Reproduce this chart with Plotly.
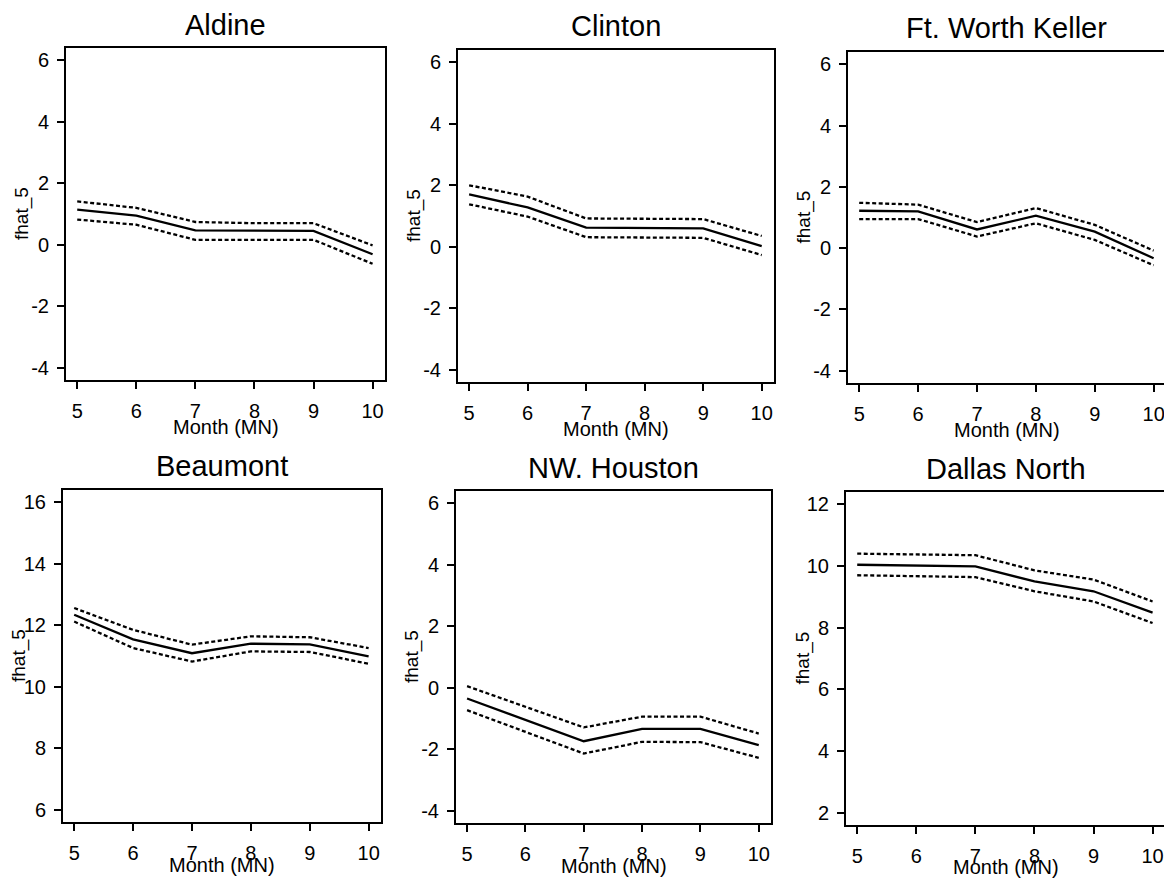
import plotly.graph_objects as go

# page body has an 8px margin, so all reference pixel positions are shifted by OFF
OFF = 8
W, H = 1164, 871

months = [5, 6, 7, 8, 9, 10]

stations = ["Aldine", "Clinton", "Ft. Worth Keller", "Beaumont", "NW. Houston", "Dallas North"]

aldine_fit = [1.14, 0.95, 0.47, 0.47, 0.45, -0.31]
aldine_upper = [1.41, 1.20, 0.74, 0.70, 0.70, -0.02]
aldine_lower = [0.82, 0.65, 0.16, 0.16, 0.16, -0.62]

clinton_fit = [1.70, 1.28, 0.62, 0.62, 0.60, 0.02]
clinton_upper = [2.00, 1.63, 0.92, 0.90, 0.90, 0.35]
clinton_lower = [1.38, 0.98, 0.31, 0.29, 0.29, -0.27]

ftworth_fit = [1.22, 1.20, 0.61, 1.06, 0.54, -0.33]
ftworth_upper = [1.48, 1.42, 0.85, 1.31, 0.76, -0.08]
ftworth_lower = [0.95, 0.95, 0.38, 0.81, 0.27, -0.56]

beaumont_fit = [12.34, 11.54, 11.09, 11.40, 11.38, 10.99]
beaumont_upper = [12.56, 11.85, 11.37, 11.64, 11.61, 11.26]
beaumont_lower = [12.12, 11.26, 10.82, 11.15, 11.13, 10.75]

nwhouston_fit = [-0.35, -1.05, -1.74, -1.34, -1.34, -1.87]
nwhouston_upper = [0.05, -0.62, -1.29, -0.94, -0.94, -1.49]
nwhouston_lower = [-0.73, -1.44, -2.14, -1.76, -1.77, -2.28]

dallas_fit = [10.04, 10.02, 9.99, 9.50, 9.18, 8.49]
dallas_upper = [10.40, 10.37, 10.35, 9.86, 9.56, 8.85]
dallas_lower = [9.70, 9.68, 9.64, 9.18, 8.85, 8.15]

ytick_sets = [
    [-4, -2, 0, 2, 4, 6],
    [-4, -2, 0, 2, 4, 6],
    [-4, -2, 0, 2, 4, 6],
    [6, 8, 10, 12, 14, 16],
    [-4, -2, 0, 2, 4, 6],
    [2, 4, 6, 8, 10, 12],
]

series = [
    (aldine_fit, aldine_upper, aldine_lower),
    (clinton_fit, clinton_upper, clinton_lower),
    (ftworth_fit, ftworth_upper, ftworth_lower),
    (beaumont_fit, beaumont_upper, beaumont_lower),
    (nwhouston_fit, nwhouston_upper, nwhouston_lower),
    (dallas_fit, dallas_upper, dallas_lower),
]

# panel boxes in reference pixels: left, right, top, bottom
boxes = [
    (66, 385, 48, 380),
    (458, 774, 50, 382),
    (848, 1166, 52, 383),
    (63, 381, 490, 822),
    (456, 771, 491, 823),
    (846, 1165, 492, 825),
]
title_y = [25, 26, 28, 466, 468, 469]
xlabel_gap = [47, 47, 47, 43, 43, 42]

FONT = "Liberation Sans, Arial, Helvetica, sans-serif"


def px(x):
    return min(1.0, max(0.0, (x - OFF) / W))


def py(y):
    return min(1.0, max(0.0, 1 - (y - OFF) / H))


fig = go.Figure()
annotations = []
layout = dict(
    width=W, height=H,
    margin=dict(l=0, r=0, t=0, b=0),
    paper_bgcolor="white", plot_bgcolor="white",
    showlegend=False,
    font=dict(family=FONT, color="black", size=20),
)

for i, (name, (fit, up, lo), yt, box, ty, gap) in enumerate(
        zip(stations, series, ytick_sets, boxes, title_y, xlabel_gap)):
    k = "" if i == 0 else str(i + 1)
    xa, ya = "x" + k, "y" + k
    l, r, t, b = box
    for vals, dash in ((up, "4px,2.5px"), (lo, "4px,2.5px"), (fit, "solid")):
        fig.add_trace(go.Scatter(
            x=months, y=vals, mode="lines", xaxis=xa, yaxis=ya,
            line=dict(color="black", width=2.3, dash=dash),
            hoverinfo="skip",
        ))
    axis_common = dict(
        showgrid=False, zeroline=False, showline=True, mirror=True,
        linecolor="black", linewidth=2, ticks="outside", ticklen=7,
        tickwidth=2, tickcolor="black",
        tickfont=dict(family=FONT, size=20, color="black"),
    )
    layout["xaxis" + k] = dict(
        axis_common, domain=[px(l), px(r)], anchor=ya,
        range=[4.81, 10.21], tickmode="array", tickvals=months,
        ticktext=[str(m) for m in months], ticklabelstandoff=5,
    )
    layout["yaxis" + k] = dict(
        axis_common, domain=[py(b), py(t)], anchor=xa,
        range=[yt[0] - 0.4, yt[-1] + 0.4], tickmode="array", tickvals=yt,
        ticktext=[str(v) for v in yt], ticklabelstandoff=4,
    )
    cx = (l + r) / 2
    annotations.append(dict(
        text=name, x=px(cx), y=py(ty), xref="paper", yref="paper",
        xanchor="center", yanchor="middle", showarrow=False,
        font=dict(family=FONT, size=29, color="black"),
    ))
    annotations.append(dict(
        text="Month (MN)", x=px(cx), y=py(b + gap), xref="paper", yref="paper",
        xanchor="center", yanchor="middle", showarrow=False,
        font=dict(family=FONT, size=20, color="black"),
    ))
    annotations.append(dict(
        text="fhat_5", x=px(l - 44), y=py((t + b) / 2), xref="paper", yref="paper",
        xanchor="center", yanchor="middle", showarrow=False, textangle=-90,
        font=dict(family=FONT, size=19, color="black"),
    ))

layout["annotations"] = annotations
fig.update_layout(**layout)
fig.write_html("out.html")
